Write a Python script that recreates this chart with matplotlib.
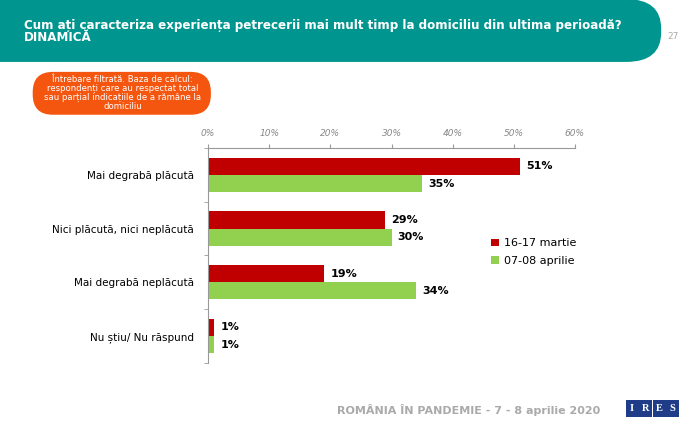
import matplotlib.pyplot as plt
from matplotlib.patches import FancyBboxPatch, Rectangle
import numpy as np

# data
categories = ["Mai degrabă plăcută", "Nici plăcută, nici neplăcută",
              "Mai degrabă neplăcută", "Nu știu/ Nu răspund"]
martie = [51, 29, 19, 1]
aprilie = [35, 30, 34, 1]
series_names = ["16-17 martie", "07-08 aprilie"]
xticks = [0, 10, 20, 30, 40, 50, 60]

red = "#C00000"
green = "#92D050"
teal = "#00968F"
orange = "#F5560F"

fig = plt.figure(figsize=(6.96, 4.33), dpi=100)
asp = 6.96 / 4.33

# header band with rounded right end
hdr = FancyBboxPatch((-0.1, 0.857), 1.05, 0.145, boxstyle="round,pad=0,rounding_size=0.05",
                     transform=fig.transFigure, facecolor=teal, edgecolor="none",
                     mutation_aspect=asp * 0.85)
fig.patches.append(hdr)
fig.text(0.034, 0.940, "Cum ați caracteriza experiența petrecerii mai mult timp la domiciliu din ultima perioadă?",
         color="white", fontsize=8.6, fontweight="bold", va="center")
fig.text(0.034, 0.913, "DINAMICĂ", color="white", fontsize=8.6, fontweight="bold", va="center")
fig.text(0.967, 0.915, "27", color="#AAAAAA", fontsize=6.5, ha="center", va="center")

# orange note box
note = FancyBboxPatch((0.047, 0.735), 0.256, 0.099, boxstyle="round,pad=0,rounding_size=0.029",
                      transform=fig.transFigure, facecolor=orange, edgecolor="none",
                      mutation_aspect=asp)
fig.patches.append(note)
fig.text(0.176, 0.785, "Întrebare filtrată. Baza de calcul:\nrespondenți care au respectat total\nsau parțial indicațiile de a rămâne la\ndomiciliu",
         color="white", fontsize=6.1, ha="center", va="center", linespacing=0.95)

ax = fig.add_axes([0.299, 0.162, 0.527, 0.496])
y = np.arange(len(categories))
h = 0.32
ax.barh(y - h / 2, martie, height=h, color=red, label=series_names[0])
ax.barh(y + h / 2, aprilie, height=h, color=green, label=series_names[1])
for yi, v1, v2 in zip(y, martie, aprilie):
    ax.text(v1 + 1, yi - h / 2, f"{v1}%", va="center", fontsize=8, fontweight="bold")
    ax.text(v2 + 1, yi + h / 2, f"{v2}%", va="center", fontsize=8, fontweight="bold")

ax.set_xlim(0, 60)
ax.set_ylim(len(categories) - 0.5, -0.5)
ax.xaxis.tick_top()
ax.set_xticks(xticks)
ax.set_xticklabels([f"{t}%" for t in xticks], fontsize=6.5, color="#888888", style="italic")
ax.tick_params(axis="x", length=3, color="#999999", pad=4)
ax.set_yticks(y)
ax.set_yticklabels(categories, fontsize=7.5)
ax.tick_params(axis="y", length=0, pad=10)
ax.set_yticks(np.arange(-0.5, len(categories), 1), minor=True)
ax.tick_params(axis="y", which="minor", length=3, color="#999999")
for s in ["right", "bottom"]:
    ax.spines[s].set_visible(False)
for s in ["top", "left"]:
    ax.spines[s].set_color("#999999")
    ax.spines[s].set_linewidth(0.8)

ax.legend(loc="center left", bbox_to_anchor=(0.745, 0.515), frameon=False, fontsize=8,
          handlelength=0.7, handleheight=0.7, handletextpad=0.4, labelspacing=0.7)

# footer
fig.text(0.862, 0.053, "ROMÂNIA ÎN PANDEMIE - 7 - 8 aprilie 2020", color="#AAAAAA",
         fontsize=8, fontweight="bold", ha="right", va="center")
logo_x = 0.899
for i, ch in enumerate("IRES"):
    fig.patches.append(Rectangle((logo_x + i * 0.0195, 0.037), 0.0185, 0.04,
                                 transform=fig.transFigure, facecolor="#1F3C88", edgecolor="none"))
    fig.text(logo_x + i * 0.0195 + 0.00925, 0.057, ch, color="white", fontsize=7.5,
             fontweight="bold", family="Liberation Serif", ha="center", va="center")

fig.savefig("out.png", dpi=100)
